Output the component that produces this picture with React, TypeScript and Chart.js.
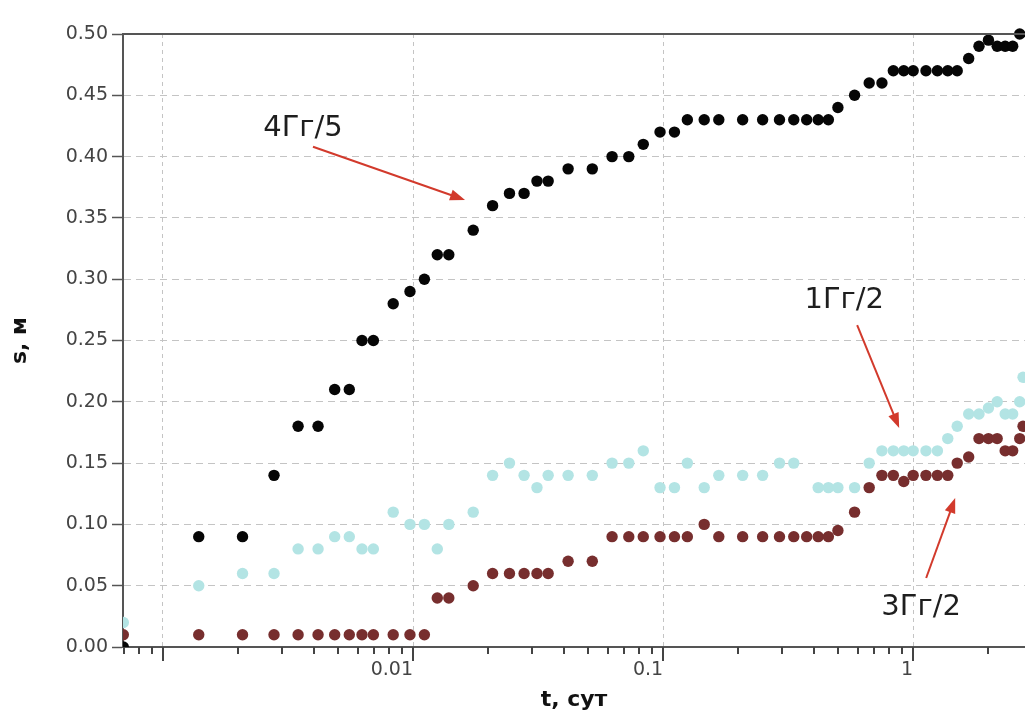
import React, { useEffect, useRef } from 'react';
import { Chart, registerables } from 'chart.js';

Chart.register(...registerables);

// Observation times, days
const TIME_DAYS = [
  0.000694, 0.00139, 0.00208, 0.00278, 0.00347, 0.00417, 0.00486, 0.00556, 0.00625, 0.00694,
  0.00833, 0.00972, 0.0111, 0.0125, 0.0139, 0.0174, 0.0208, 0.0243, 0.0278, 0.0313,
  0.0347, 0.0417, 0.0521, 0.0625, 0.0729, 0.0833, 0.0972, 0.111, 0.125, 0.146,
  0.167, 0.208, 0.25, 0.292, 0.333, 0.375, 0.417, 0.458, 0.5, 0.583,
  0.667, 0.75, 0.833, 0.917, 1.0, 1.125, 1.25, 1.375, 1.5, 1.667,
  1.833, 2.0, 2.167, 2.333, 2.5, 2.667, 2.75,
];

// Drawdown s, m — well 4Гг/5
const S_4GG5 = [
  0.0, 0.09, 0.09, 0.14, 0.18, 0.18, 0.21, 0.21, 0.25, 0.25,
  0.28, 0.29, 0.3, 0.32, 0.32, 0.34, 0.36, 0.37, 0.37, 0.38,
  0.38, 0.39, 0.39, 0.4, 0.4, 0.41, 0.42, 0.42, 0.43, 0.43,
  0.43, 0.43, 0.43, 0.43, 0.43, 0.43, 0.43, 0.43, 0.44, 0.45,
  0.46, 0.46, 0.47, 0.47, 0.47, 0.47, 0.47, 0.47, 0.47, 0.48,
  0.49, 0.495, 0.49, 0.49, 0.49, 0.5, null,
];

// Drawdown s, m — well 1Гг/2
const S_1GG2 = [
  0.02, 0.05, 0.06, 0.06, 0.08, 0.08, 0.09, 0.09, 0.08, 0.08,
  0.11, 0.1, 0.1, 0.08, 0.1, 0.11, 0.14, 0.15, 0.14, 0.13,
  0.14, 0.14, 0.14, 0.15, 0.15, 0.16, 0.13, 0.13, 0.15, 0.13,
  0.14, 0.14, 0.14, 0.15, 0.15, null, 0.13, 0.13, 0.13, 0.13,
  0.15, 0.16, 0.16, 0.16, 0.16, 0.16, 0.16, 0.17, 0.18, 0.19,
  0.19, 0.195, 0.2, 0.19, 0.19, 0.2, 0.22,
];

// Drawdown s, m — well 3Гг/2
const S_3GG2 = [
  0.01, 0.01, 0.01, 0.01, 0.01, 0.01, 0.01, 0.01, 0.01, 0.01,
  0.01, 0.01, 0.01, 0.04, 0.04, 0.05, 0.06, 0.06, 0.06, 0.06,
  0.06, 0.07, 0.07, 0.09, 0.09, 0.09, 0.09, 0.09, 0.09, 0.1,
  0.09, 0.09, 0.09, 0.09, 0.09, 0.09, 0.09, 0.09, 0.095, 0.11,
  0.13, 0.14, 0.14, 0.135, 0.14, 0.14, 0.14, 0.14, 0.15, 0.155,
  0.17, 0.17, 0.17, 0.16, 0.16, 0.17, 0.18,
];

// Axis ticks
const X_TICKS = [
  0.0007, 0.0008, 0.0009,
  0.001, 0.002, 0.003, 0.004, 0.005, 0.006, 0.007, 0.008, 0.009,
  0.01, 0.02, 0.03, 0.04, 0.05, 0.06, 0.07, 0.08, 0.09,
  0.1, 0.2, 0.3, 0.4, 0.5, 0.6, 0.7, 0.8, 0.9,
  1, 2,
];
const X_DECADES = [0.001, 0.01, 0.1, 1];
const X_TICK_LABELS = ['0.01', '0.1', '1'];
const X_MIN = 0.000692;
const X_MAX = 2.8;
const Y_MIN = 0;
const Y_MAX = 0.5;
const Y_STEP = 0.05;

// Callouts: label centre, arrow start, arrow tip (t in days, s in m)
const CALLOUT_TEXT = ['4Гг/5', '1Гг/2', '3Гг/2'];
const CALLOUT_AT = [[0.00363, 0.423], [0.53, 0.283], [1.076, 0.0326]];
const CALLOUT_FROM = [[0.00398, 0.408], [0.597, 0.2626], [1.127, 0.0563]];
const CALLOUT_TO = [[0.01614, 0.3646], [0.879, 0.1786], [1.472, 0.1215]];

const FONT = "'DejaVu Sans', 'Liberation Sans', sans-serif";
const AXIS_COLOR = '#555555';
const TICK_COLOR = '#444444';
const GRID_COLOR = '#c4c4c4';
const MINOR_TICK = 7;
const MAJOR_TICK = 14;

const toPoints = (values: (number | null)[]) =>
  TIME_DAYS.map((t, i) => ({ x: t, y: values[i] })).filter((p) => p.y !== null);

const overlayPlugin = {
  id: 'overlay',
  afterDraw(chart: any) {
    const { ctx, chartArea: a, scales } = chart;
    const xs = scales.x;
    const ys = scales.y;
    ctx.save();
    ctx.setLineDash([]);

    // x tick marks, snapped to whole pixels: long at decades, short elsewhere
    ctx.strokeStyle = TICK_COLOR;
    ctx.lineWidth = 2;
    for (const v of X_TICKS) {
      const px = Math.round(xs.getPixelForValue(v));
      if (px < a.left || px > a.right) continue;
      const len = X_DECADES.includes(v) ? MAJOR_TICK : MINOR_TICK;
      ctx.beginPath();
      ctx.moveTo(px, a.bottom);
      ctx.lineTo(px, a.bottom + len);
      ctx.stroke();
    }

    // top frame line
    ctx.strokeStyle = AXIS_COLOR;
    ctx.lineWidth = 2;
    ctx.beginPath();
    ctx.moveTo(a.left, a.top);
    ctx.lineTo(a.right, a.top);
    ctx.stroke();

    // callouts
    ctx.font = `29px ${FONT}`;
    ctx.textAlign = 'center';
    ctx.textBaseline = 'middle';
    CALLOUT_TEXT.forEach((text, i) => {
      ctx.fillStyle = '#1e1e1e';
      const tx = xs.getPixelForValue(CALLOUT_AT[i][0]);
      const ty = ys.getPixelForValue(CALLOUT_AT[i][1]);
      ctx.fillText(text, tx, ty);

      const x1 = xs.getPixelForValue(CALLOUT_FROM[i][0]);
      const y1 = ys.getPixelForValue(CALLOUT_FROM[i][1]);
      const x2 = xs.getPixelForValue(CALLOUT_TO[i][0]);
      const y2 = ys.getPixelForValue(CALLOUT_TO[i][1]);
      const ang = Math.atan2(y2 - y1, x2 - x1);
      const head = 15;
      const half = 5.5;
      ctx.strokeStyle = '#d23a2c';
      ctx.fillStyle = '#d23a2c';
      ctx.lineWidth = 2;
      ctx.beginPath();
      ctx.moveTo(x1, y1);
      ctx.lineTo(x2 - head * 0.8 * Math.cos(ang), y2 - head * 0.8 * Math.sin(ang));
      ctx.stroke();
      ctx.beginPath();
      ctx.moveTo(x2, y2);
      ctx.lineTo(
        x2 - head * Math.cos(ang) + half * Math.sin(ang),
        y2 - head * Math.sin(ang) - half * Math.cos(ang)
      );
      ctx.lineTo(
        x2 - head * Math.cos(ang) - half * Math.sin(ang),
        y2 - head * Math.sin(ang) + half * Math.cos(ang)
      );
      ctx.closePath();
      ctx.fill();
    });

    ctx.restore();
  },
};

export default function App() {
  const canvasRef = useRef<HTMLCanvasElement | null>(null);

  useEffect(() => {
    const canvas = canvasRef.current;
    if (!canvas) return;

    const pointStyle = (color: string) => ({
      backgroundColor: color,
      borderColor: color,
      borderWidth: 0,
      pointRadius: 5.7,
      pointHoverRadius: 5.7,
      clip: { left: 0, top: 8, right: 0, bottom: 0 },
    });

    const chart = new Chart(canvas, {
      type: 'scatter',
      data: {
        datasets: [
          { label: '4Гг/5', data: toPoints(S_4GG5), ...pointStyle('#060606') },
          { label: '3Гг/2', data: toPoints(S_3GG2), ...pointStyle('#772e2e') },
          { label: '1Гг/2', data: toPoints(S_1GG2), ...pointStyle('#b3e4e4') },
        ],
      },
      options: {
        responsive: false,
        animation: false,
        events: [],
        layout: { autoPadding: false, padding: { top: 34, right: 0, left: 0, bottom: 0 } },
        plugins: {
          legend: { display: false },
          tooltip: { enabled: false },
        },
        scales: {
          x: {
            type: 'logarithmic',
            min: X_MIN,
            max: X_MAX,
            afterBuildTicks: (scale: any) => {
              scale.ticks = X_TICKS.map((v) => ({ value: v, major: X_DECADES.includes(v) }));
            },
            afterFit: (scale: any) => {
              scale.height = 68;
              scale.paddingLeft = 0;
              scale.paddingRight = 0;
            },
            ticks: {
              autoSkip: false,
              maxRotation: 0,
              minRotation: 0,
              align: 'end',
              padding: 12,
              color: '#444444',
              font: { family: FONT, size: 19 },
              callback: (value: any) => {
                const k = X_DECADES.slice(1).indexOf(Number(value));
                return k >= 0 ? X_TICK_LABELS[k] : '';
              },
            },
            grid: {
              drawTicks: false,
              lineWidth: 1,
              color: (c: any) =>
                c.tick && X_DECADES.includes(c.tick.value) ? GRID_COLOR : 'rgba(0,0,0,0)',
            },
            border: { color: AXIS_COLOR, width: 2, dash: [4, 4] },
            title: {
              display: true,
              text: 't, сут',
              color: '#111111',
              font: { family: FONT, size: 22, weight: 'bold' },
              padding: { top: 0, bottom: 2 },
            },
          },
          y: {
            min: Y_MIN,
            max: Y_MAX,
            afterFit: (scale: any) => {
              scale.width = 123;
            },
            ticks: {
              stepSize: Y_STEP,
              padding: 4,
              color: '#444444',
              font: { family: FONT, size: 19 },
              callback: (value: any) => Number(value).toFixed(2),
            },
            grid: {
              color: GRID_COLOR,
              lineWidth: 1,
              tickColor: AXIS_COLOR,
              tickLength: 11,
              tickWidth: 1.5,
            },
            border: { color: AXIS_COLOR, width: 2, dash: [7, 5] },
            title: {
              display: true,
              text: 's, м',
              color: '#111111',
              font: { family: FONT, size: 22, weight: 'bold' },
              padding: { top: 7, bottom: 0 },
            },
          },
        },
      },
      plugins: [overlayPlugin],
    } as any);

    return () => chart.destroy();
  }, []);

  return (
    <div style={{ position: 'absolute', left: 0, top: 0, width: 1025, height: 715, background: '#ffffff' }}>
      <canvas ref={canvasRef} width={1025} height={715} style={{ display: 'block' }} />
    </div>
  );
}
